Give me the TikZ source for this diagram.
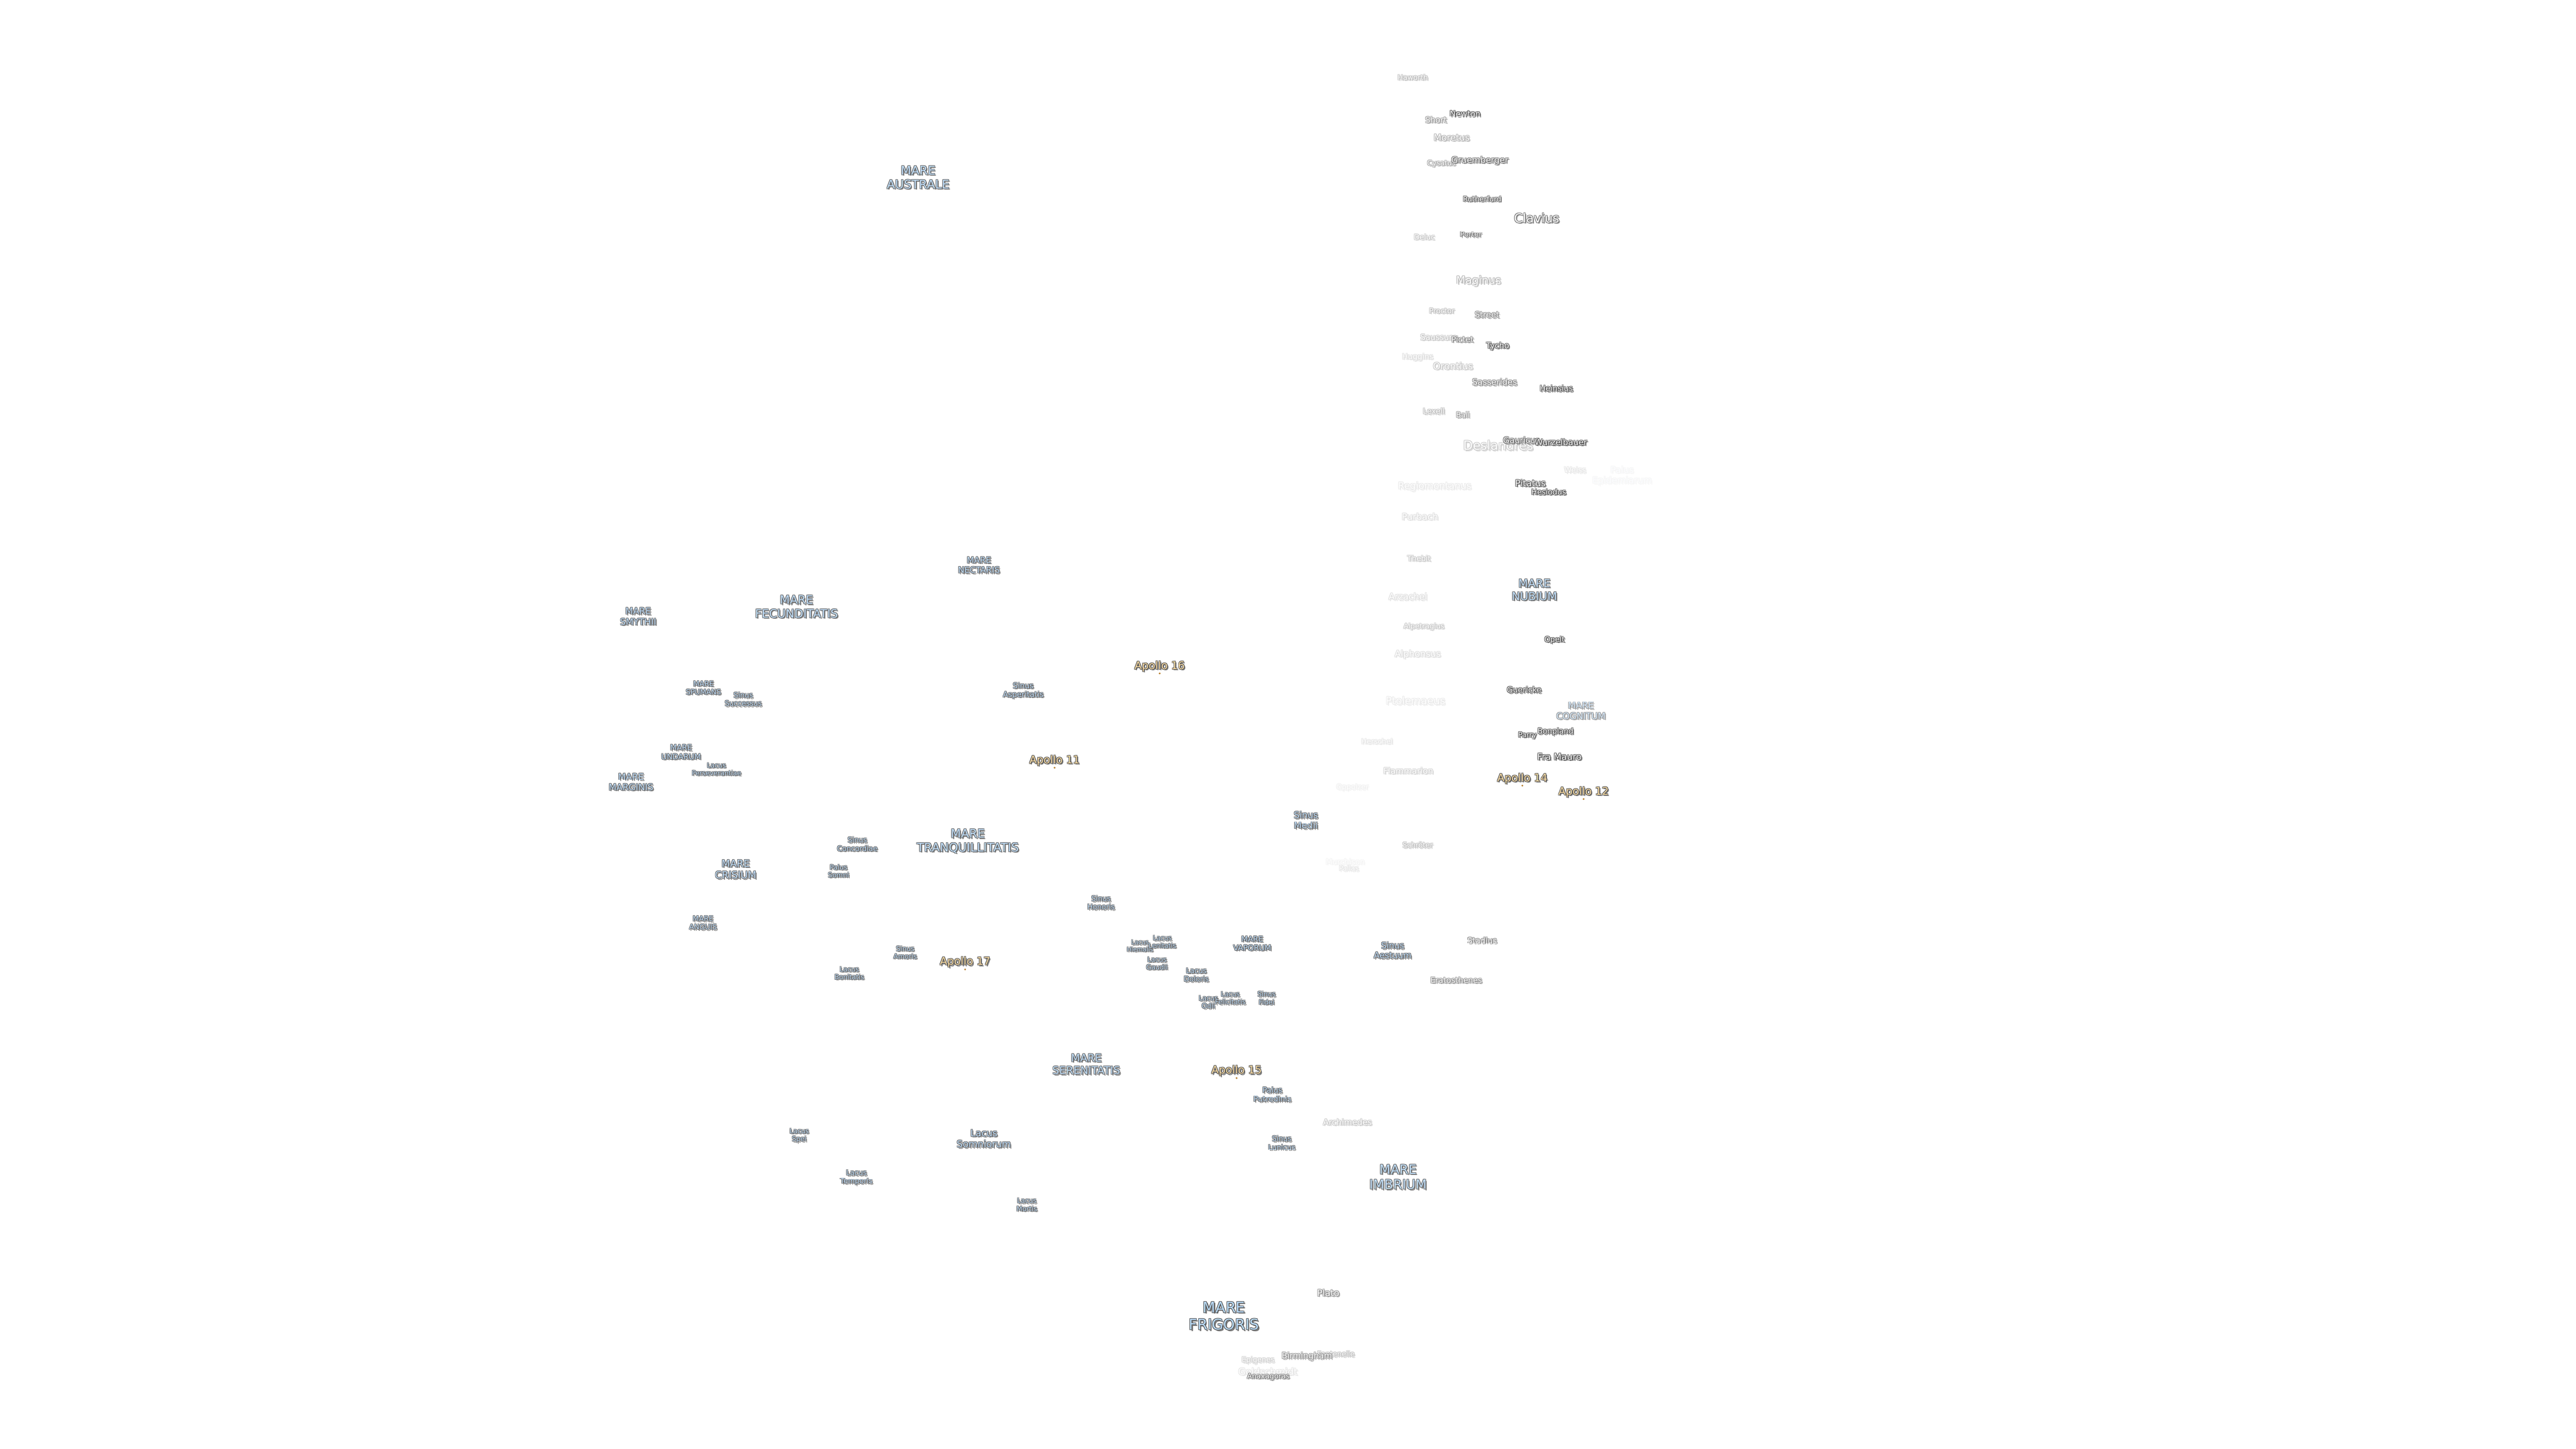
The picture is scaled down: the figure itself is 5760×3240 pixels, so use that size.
\documentclass[tikz,border=0pt]{standalone}
\usepackage{fontspec}
\usepackage{xcolor}
\setmainfont{DejaVu Sans}
\newsavebox\lblbox
\newsavebox\lblshade
\definecolor{mareblue}{HTML}{BBDCFA}
\definecolor{apollotan}{HTML}{FBDDA6}
\definecolor{craterwhite}{HTML}{FFFFFF}
\definecolor{inkdark}{HTML}{505050}
\definecolor{inkshade}{HTML}{767676}
\definecolor{sitemark}{HTML}{B88030}
% body: #1 fill colour, #2 text, #3 size in pt, #4 opacity percent
\newcommand\lblfont[1]{\pgfmathsetmacro\lblskip{1.17*#1}\renewcommand\arraystretch{1}\fontsize{#1pt}{\lblskip pt}\selectfont}
\newcommand\lblbody[4]{%
  \sbox\lblshade{\lblfont{#3}\color{inkshade!#4!white}\begin{tabular}{@{}c@{}}#2\end{tabular}}%
  \sbox\lblbox{\lblfont{#3}\color{inkdark!#4!white}\begin{tabular}{@{}c@{}}#2\end{tabular}}%
  \rlap{\raisebox{-0.7pt}{\kern0.7pt\usebox\lblshade}}%
  \rlap{\raisebox{0.28pt}{\kern-0.28pt\usebox\lblbox}}%
  \rlap{\raisebox{-0.28pt}{\kern-0.28pt\usebox\lblbox}}%
  \rlap{\raisebox{0.28pt}{\kern0.28pt\usebox\lblbox}}%
  \rlap{\raisebox{-0.28pt}{\kern0.28pt\usebox\lblbox}}%
  \lblfont{#3}\color{#1!#4!white}\begin{tabular}{@{}c@{}}#2\end{tabular}}
\tikzset{
  x=0.25pt,y=-0.25pt,
  moonlabel/.style={inner sep=0pt,outer sep=0pt,anchor=center},
  sitedot/.style={circle,fill=sitemark,draw=none,inner sep=0pt,minimum size=1.1pt}
}
% #1 name, #2 x, #3 y, #4 size in px, #5 fill colour, #6 opacity, #7 text
\newcommand\lab[7]{\pgfmathsetmacro\lblpt{#4*0.25}\node[moonlabel] (#1) at (#2,#3+3) {\lblbody{#5}{#7}{\lblpt}{#6}};}
\newcommand\mare[6]{\lab{#1}{#2}{#3}{#4}{mareblue}{#5}{#6}}
\newcommand\crat[6]{\pgfmathsetmacro\lblop{min(100,1.25*#5)}\lab{#1}{#2}{#3}{#4}{craterwhite}{\lblop}{#6}}
\newcommand\apol[4]{\lab{#1}{#2}{#3}{24}{apollotan}{100}{#4}\node[sitedot] (#1dot) at (#2,#3+17) {};}
\begin{document}
\begin{tikzpicture}
\useasboundingbox (0,0) rectangle (5760,3240);
\fill[white] (0,0) rectangle (5760,3240);
% southern highlands
\crat{haworth}{3159}{173}{16}{30}{Haworth}
\crat{short}{3211}{268}{18}{45}{Short}
\crat{newton}{3276}{254}{18}{95}{Newton}
\crat{moretus}{3246}{308}{20}{35}{Moretus}
\crat{cysatus}{3223}{364}{16}{40}{Cysatus}
\crat{gruemberger}{3309}{358}{19}{65}{Gruemberger}
\crat{rutherfurd}{3314}{445}{16}{70}{Rutherfurd}
\crat{clavius}{3436}{489}{28}{65}{Clavius}
\crat{porter}{3289}{524}{16}{65}{Porter}
\crat{deluc}{3185}{530}{16.5}{25}{Deluc}
\crat{maginus}{3306}{627}{24}{35}{Maginus}
\crat{proctor}{3224}{695}{16}{30}{Proctor}
\crat{street}{3325}{704}{18}{55}{Street}
\crat{saussure}{3217}{754}{18}{25}{Saussure}
\crat{pictet}{3270}{759}{17.5}{55}{Pictet}
\crat{tycho}{3349}{773}{18}{75}{Tycho}
\crat{huggins}{3170}{797}{17}{15}{Huggins}
\crat{orontius}{3249}{819}{21}{25}{Orontius}
\crat{sasserides}{3342}{855}{18.7}{55}{Sasserides}
\crat{heinsius}{3480}{869}{17.5}{95}{Heinsius}
\crat{lexell}{3206}{920}{17}{30}{Lexell}
\crat{ball}{3271}{928}{16.5}{45}{Ball}
\crat{deslandres}{3350}{998}{28}{25}{Deslandres}
\crat{gauricus}{3402}{985}{18.5}{70}{Gauricus}
\crat{wurzelbauer}{3490}{989}{18.6}{95}{Wurzelbauer}
\crat{weiss}{3522}{1051}{17}{12}{Weiss}
\mare{epidemiarum}{3627}{1063}{20}{5}{Palus\\Epidemiarum}
\crat{regiomontanus}{3208}{1087}{21}{10}{Regiomontanus}
\crat{pitatus}{3422}{1081}{20}{75}{Pitatus}
\crat{hesiodus}{3463}{1100}{17}{90}{Hesiodus}
\crat{purbach}{3175}{1156}{20}{15}{Purbach}
\crat{thebit}{3173}{1249}{16.5}{25}{Thebit}
\mare{nubium}{3431}{1320}{25}{90}{MARE\\NUBIUM}
\crat{arzachel}{3148}{1335}{20}{15}{Arzachel}
\crat{alpetragius}{3184}{1400}{16}{25}{Alpetragius}
\crat{opelt}{3476}{1430}{16.6}{90}{Opelt}
\crat{alphonsus}{3170}{1462}{20}{15}{Alphonsus}
\crat{guericke}{3408}{1543}{17.5}{80}{Guericke}
\crat{ptolemaeus}{3165}{1568}{22.7}{10}{Ptolemaeus}
\mare{cognitum}{3535}{1590}{20}{60}{MARE\\COGNITUM}
\crat{parry}{3415}{1643}{16}{80}{Parry}
\crat{bonpland}{3478}{1635}{17}{90}{Bonpland}
\crat{herschel}{3079}{1658}{16}{12}{Herschel}
\crat{framauro}{3487}{1693}{20}{90}{Fra Mauro}
\crat{flammarion}{3149}{1724}{18.7}{20}{Flammarion}
\apol{apollofourteen}{3404}{1740}{Apollo 14}
\apol{apollotwelve}{3541}{1770}{Apollo 12}
\crat{oppolzer}{3024}{1760}{16}{7}{Oppolzer}
\crat{schroter}{3170}{1890}{16}{30}{Schröter}
\crat{murchison}{3008}{1927}{17}{5}{Murchison}
\crat{pallas}{3016}{1942}{15.5}{12}{Pallas}
\mare{medii}{2920}{1835}{20}{90}{Sinus\\Medii}
% eastern maria
\mare{australe}{2053}{398}{27}{90}{MARE\\AUSTRALE}
\mare{nectaris}{2189}{1264}{19}{90}{MARE\\NECTARIS}
\apol{apollosixteen}{2593}{1489}{Apollo 16}
\mare{asperitatis}{2288}{1543}{17}{90}{Sinus\\Asperitatis}
\apol{apolloeleven}{2358}{1700}{Apollo 11}
\mare{smythii}{1427}{1379}{20}{90}{MARE\\SMYTHII}
\mare{fecunditatis}{1781}{1358}{26}{90}{MARE\\FECUNDITATIS}
\mare{spumans}{1573}{1538}{16}{90}{MARE\\SPUMANS}
\mare{successus}{1662}{1564}{16}{90}{Sinus\\Successus}
\mare{undarum}{1523}{1682}{17}{90}{MARE\\UNDARUM}
\mare{perseverantiae}{1602}{1720}{14.7}{90}{Lacus\\Perseverantiae}
\mare{marginis}{1411}{1749}{20}{90}{MARE\\MARGINIS}
\mare{concordiae}{1917}{1888}{16}{90}{Sinus\\Concordiae}
\mare{tranquillitatis}{2164}{1881}{26.5}{90}{MARE\\TRANQUILLITATIS}
\mare{somni}{1875}{1948}{15}{90}{Palus\\Somni}
\mare{crisium}{1645}{1945}{22}{90}{MARE\\CRISIUM}
\mare{anguis}{1572}{2064}{16}{90}{MARE\\ANGUIS}
\mare{bonitatis}{1899}{2176}{15}{90}{Lacus\\Bonitatis}
\mare{amoris}{2024}{2130}{15}{90}{Sinus\\Amoris}
\apol{apolloseventeen}{2158}{2151}{Apollo 17}
\mare{honoris}{2462}{2019}{16}{90}{Sinus\\Honoris}
\mare{hiemalis}{2549}{2115}{13.6}{90}{Lacus\\Hiemalis}
\mare{lenitatis}{2599}{2106}{14.5}{90}{Lacus\\Lenitatis}
\mare{vaporum}{2800}{2110}{17}{90}{MARE\\VAPORUM}
\mare{gaudii}{2587}{2154}{15}{90}{Lacus\\Gaudii}
\mare{doloris}{2675}{2180}{16}{90}{Lacus\\Doloris}
\mare{odii}{2702}{2241}{15}{90}{Lacus\\Odii}
\mare{felicitatis}{2751}{2232}{14.5}{90}{Lacus\\Felicitatis}
\mare{fidei}{2832}{2232}{15}{90}{Sinus\\Fidei}
\mare{aestuum}{3114}{2126}{19}{90}{Sinus\\Aestuum}
\crat{stadius}{3314}{2103}{17.8}{55}{Stadius}
\crat{eratosthenes}{3256}{2192}{17.5}{50}{Eratosthenes}
% north
\mare{serenitatis}{2429}{2381}{24}{90}{MARE\\SERENITATIS}
\apol{apollofifteen}{2765}{2394}{Apollo 15}
\mare{putredinis}{2845}{2448}{17}{90}{Palus\\Putredinis}
\crat{archimedes}{3013}{2510}{18.5}{25}{Archimedes}
\mare{lunicus}{2866}{2556}{16}{90}{Sinus\\Lunicus}
\mare{imbrium}{3126}{2634}{29}{90}{MARE\\IMBRIUM}
\mare{spei}{1787}{2538}{15}{90}{Lacus\\Spei}
\mare{somniorum}{2200}{2547}{21}{90}{Lacus\\Somniorum}
\mare{temporis}{1915}{2632}{16}{90}{Lacus\\Temporis}
\mare{mortis}{2296}{2694}{15}{90}{Lacus\\Mortis}
\crat{plato}{2970}{2892}{20}{50}{Plato}
\mare{frigoris}{2737}{2945}{33}{100}{MARE\\FRIGORIS}
\crat{fontenelle}{2987}{3028}{16}{30}{Fontenelle}
\crat{birmingham}{2922}{3032}{18.5}{50}{Birmingham}
\crat{epigenes}{2813}{3041}{16}{22}{Epigenes}
\crat{goldschmidt}{2835}{3068}{21}{12}{Goldschmidt}
\crat{anaxagoras}{2836}{3077}{16}{60}{Anaxagoras}
\end{tikzpicture}
\end{document}
